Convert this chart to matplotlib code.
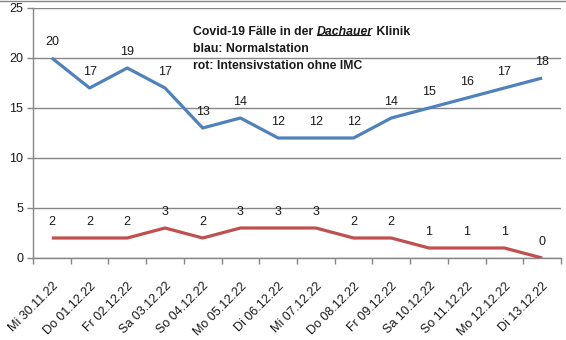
import matplotlib
matplotlib.use('Agg')
import matplotlib.pyplot as plt
from matplotlib.lines import Line2D

# Covid-19 Fälle, Klinikum Dachau
dates = ['Mi 30.11.22', 'Do 01.12.22', 'Fr 02.12.22', 'Sa 03.12.22', 'So 04.12.22',
         'Mo 05.12.22', 'Di 06.12.22', 'Mi 07.12.22', 'Do 08.12.22', 'Fr 09.12.22',
         'Sa 10.12.22', 'So 11.12.22', 'Mo 12.12.22', 'Di 13.12.22']
normalstation = [20, 17, 19, 17, 13, 14, 12, 12, 12, 14, 15, 16, 17, 18]
intensiv = [2, 2, 2, 3, 2, 3, 3, 3, 2, 2, 1, 1, 1, 0]

BLUE = '#4F81BD'
RED = '#C0504D'
GRID = '#868686'
TXT = '#1a1a1a'

plt.rcParams['font.family'] = ['Liberation Sans', 'DejaVu Sans']

fig = plt.figure(figsize=(5.66, 3.40), dpi=100)
ax = fig.add_axes([33 / 566, 82 / 340, 528 / 566, 250 / 340])

x = list(range(len(dates)))
ax.plot(x, normalstation, color=BLUE, lw=2.3, solid_capstyle='butt', zorder=3)
ax.plot(x, intensiv, color=RED, lw=2.3, solid_capstyle='butt', zorder=3)

for xi, v in zip(x, normalstation):
    ax.annotate(str(v), (xi, v), xytext=(0, 11.5), textcoords='offset points',
                ha='center', va='center', fontsize=9, color=TXT)
for xi, v in zip(x, intensiv):
    ax.annotate(str(v), (xi, v), xytext=(0, 11.5), textcoords='offset points',
                ha='center', va='center', fontsize=9, color=TXT)

ax.set_xlim(-0.5, len(dates) - 0.5)
ax.set_ylim(0, 25)
ax.set_yticks(range(0, 26, 5))
ax.yaxis.grid(True, color=GRID, lw=1)
ax.set_axisbelow(True)

ax.set_xticks(x)
ax.set_xticklabels(dates, rotation=45, ha='right', rotation_mode='anchor',
                   fontsize=9, color=TXT)
ax.set_xticks([i - 0.5 for i in range(len(dates) + 1)], minor=True)
ax.tick_params(axis='x', which='major', length=0, pad=16)
ax.tick_params(axis='x', which='minor', length=4, color=GRID, width=1)
ax.tick_params(axis='y', length=4, color=GRID, width=1, labelsize=9,
               labelcolor=TXT, pad=3)

for s in ('top', 'right'):
    ax.spines[s].set_visible(False)
for s in ('left', 'bottom'):
    ax.spines[s].set_color(GRID)
    ax.spines[s].set_linewidth(1)

# Titelblock im Diagramm
tkw = dict(fontsize=8.8, fontweight='bold', color=TXT)
t1 = fig.text(193 / 566, 1 - 38 / 340, 'Covid-19 Fälle in der ', ha='left', va='bottom', **tkw)
t2 = ax.annotate('Dachauer', xy=(1, 0), xycoords=t1, ha='left', va='bottom',
                 fontstyle='italic', **tkw)
t3 = ax.annotate(' Klinik', xy=(1, 0), xycoords=t2, ha='left', va='bottom', **tkw)
fig.text(193 / 566, 1 - 55 / 340, 'blau: Normalstation', ha='left', va='bottom', **tkw)
fig.text(193 / 566, 1 - 72 / 340, 'rot: Intensivstation ohne IMC', ha='left', va='bottom', **tkw)

fig.canvas.draw()
bb = t2.get_window_extent()
uy = (bb.y0 + 3) / fig.bbox.height
fig.add_artist(Line2D([bb.x0 / fig.bbox.width, (bb.x1 - 3) / fig.bbox.width], [uy, uy],
                      color=TXT, lw=0.8))
fig.add_artist(Line2D([0, 1], [0.998, 0.998], color=GRID, lw=1))

fig.savefig('out.png', dpi=100)
